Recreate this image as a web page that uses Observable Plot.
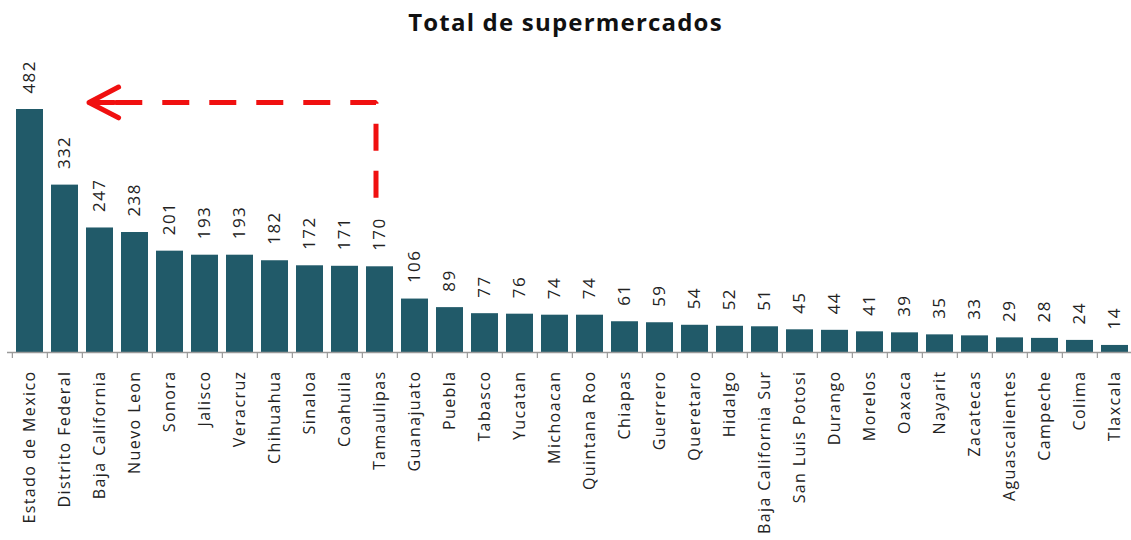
<!DOCTYPE html>
<html><head><meta charset="utf-8">
<script src="https://cdn.jsdelivr.net/npm/d3@7"></script>
<script src="https://cdn.jsdelivr.net/npm/@observablehq/plot@0.6"></script>
<style>
body{margin:0;background:#fff;width:1131px;height:540px;overflow:hidden;font-family:"Open Sans",sans-serif}
#title{height:50px;line-height:44px;text-align:center;font-weight:bold;font-size:24px;letter-spacing:1.2px;color:#111;}
</style></head><body>
<div id="title">Total de supermercados</div>
<div id="chart"></div>
<script>
const states = ["Estado de Mexico","Distrito Federal","Baja California","Nuevo Leon","Sonora","Jalisco","Veracruz","Chihuahua","Sinaloa","Coahuila","Tamaulipas","Guanajuato","Puebla","Tabasco","Yucatan","Michoacan","Quintana Roo","Chiapas","Guerrero","Queretaro","Hidalgo","Baja California Sur","San Luis Potosi","Durango","Morelos","Oaxaca","Nayarit","Zacatecas","Aguascalientes","Campeche","Colima","Tlaxcala"];
const values = [482,332,247,238,201,193,193,182,172,171,170,106,89,77,76,74,74,61,59,54,52,51,45,44,41,39,35,33,29,28,24,14];
// annotation arrow (data coordinates)
const arrowFrom = "Tamaulipas";
const arrowTo = "Baja California";
const arrowBottom = 307;
const arrowTop = 496;

const data = states.map((s, i) => ({state: s, value: values[i]}));
const arrowPath = [
  {state: arrowFrom, value: arrowBottom},
  {state: arrowFrom, value: arrowTop},
  {state: arrowTo, value: arrowTop}
];
const arrowHead = [{from: arrowFrom, to: arrowTo, value: arrowTop}];

const W = 1131, ML = 7, MR = -5;
const step = (W - ML - MR) / states.length;

const chart = Plot.plot({
  width: W,
  height: 490,
  marginLeft: ML,
  marginRight: MR,
  marginTop: 59,
  marginBottom: 188,
  style: {fontFamily: "'Open Sans', sans-serif", fontSize: "16px", color: "#222", letterSpacing: "1.4px", background: "#fff"},
  x: {domain: states, paddingInner: 0.23, paddingOuter: 0.115, tickSize: 0, tickPadding: 18, tickRotate: -90, label: null},
  y: {domain: [0, 482], axis: null},
  marks: [
    Plot.barY(data, {x: "state", y: "value", fill: "#215a69"}),
    Plot.ruleY([0], {stroke: "#9a9a9a", strokeWidth: 1.5}),
    Plot.ruleX(data, {x: "state", y1: 0, y2: 0, insetBottom: -6, dx: -step / 2, stroke: "#9a9a9a", strokeWidth: 1.2}),
    Plot.text(data, {x: "state", y: "value", text: d => String(d.value), rotate: -90, textAnchor: "start", dy: -16, fontSize: 17, fill: "#222"}),
    Plot.line(arrowPath, {x: "state", y: "value", stroke: "#f01010", strokeWidth: 5, strokeDasharray: "27,20", strokeLinecap: "butt", strokeLinejoin: "miter", dx: -4}),
    Plot.arrow(arrowHead, {x1: "from", x2: "to", y1: "value", y2: "value", stroke: "#f01010", strokeWidth: 5, headLength: 10, headAngle: 55, insetStart: 255, dx: -11})
  ]
});
document.getElementById("chart").appendChild(chart);
</script>
</body></html>
